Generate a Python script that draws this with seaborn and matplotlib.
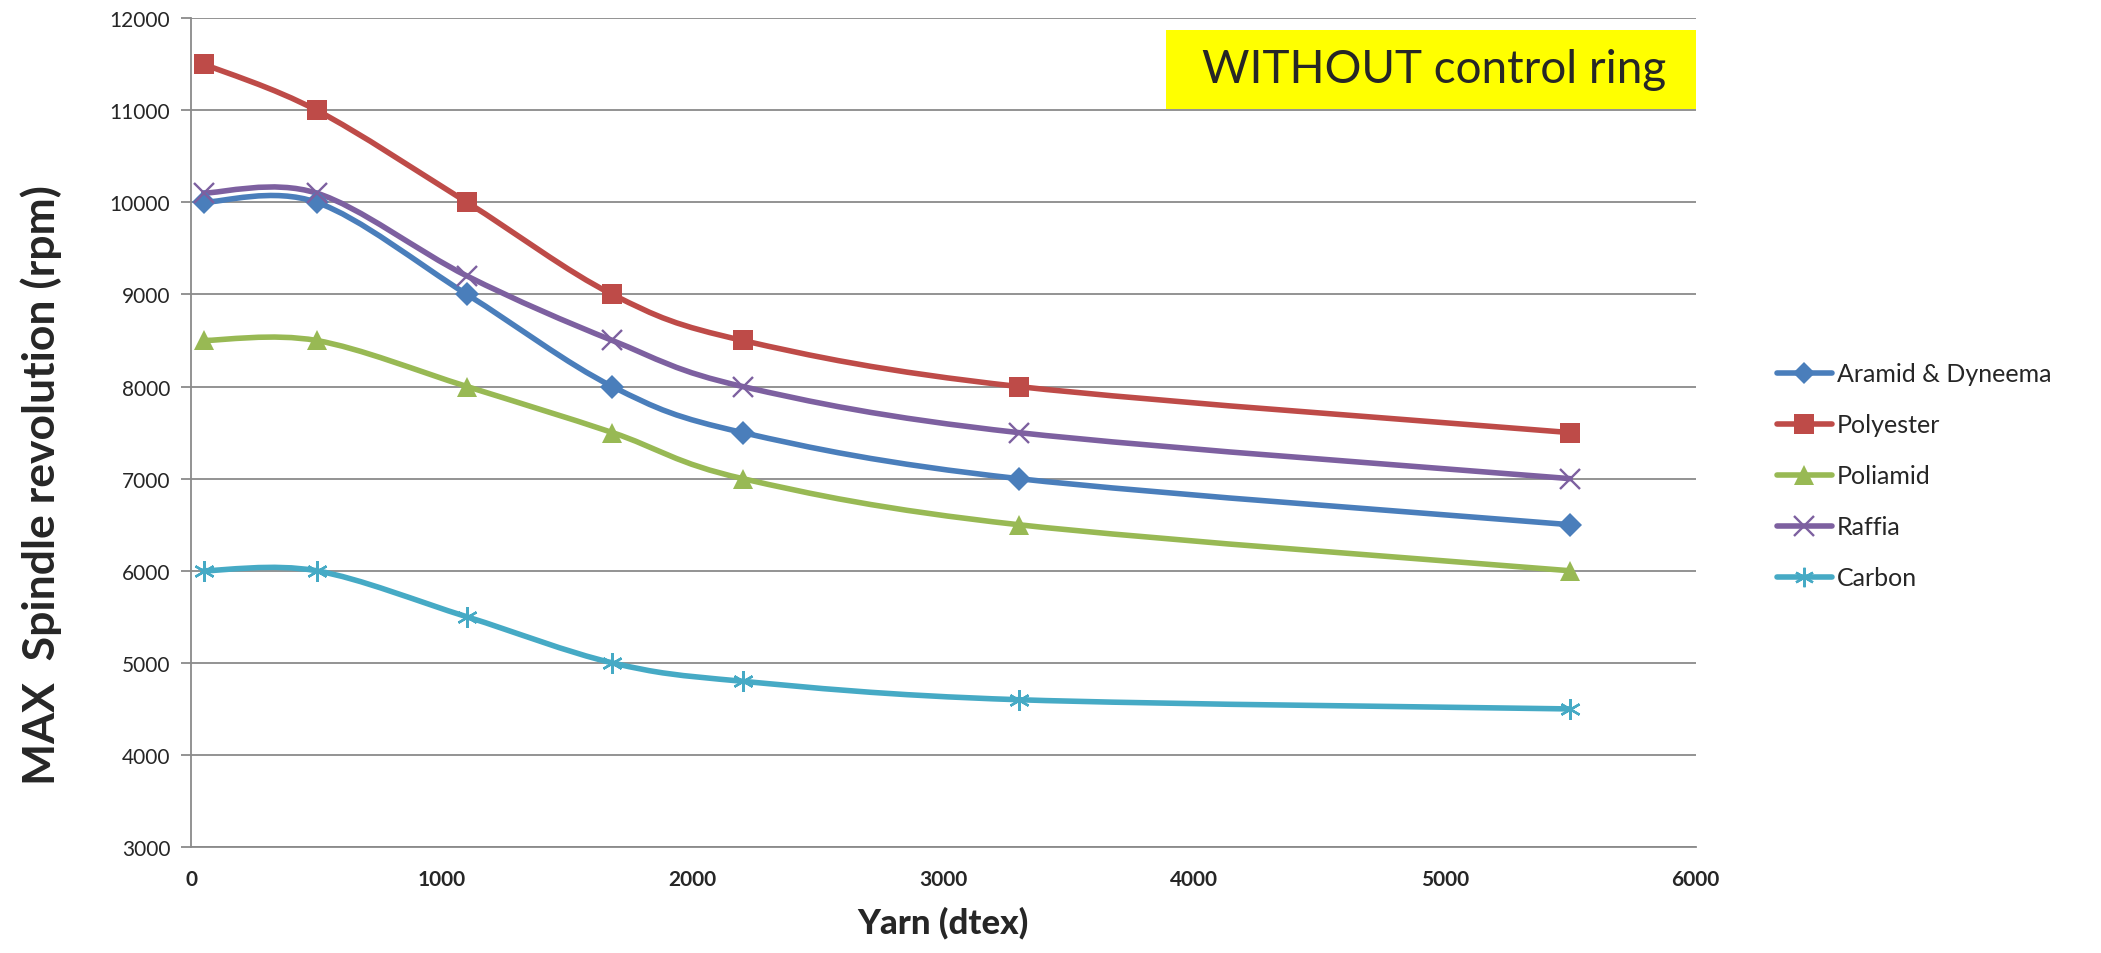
import seaborn as sns
from matplotlib import pyplot as plt
from matplotlib.path import Path
from matplotlib.patches import PathPatch, Rectangle
from matplotlib.lines import Line2D
import numpy as np
import pandas as pd

# data
yarn = [50, 500, 1100, 1680, 2200, 3300, 5500]
series = ["Aramid & Dyneema", "Polyester", "Poliamid", "Raffia", "Carbon"]
aramid = [10000, 10000, 9000, 8000, 7500, 7000, 6500]
polyester = [11500, 11000, 10000, 9000, 8500, 8000, 7500]
poliamid = [8500, 8500, 8000, 7500, 7000, 6500, 6000]
raffia = [10100, 10100, 9200, 8500, 8000, 7500, 7000]
carbon = [6000, 6000, 5500, 5000, 4800, 4600, 4500]

colors = ["#4A7EBB", "#BE4B48", "#98B954", "#7D60A0", "#46AAC5"]
markers = ["D", "s", "^", "x", (6, 2, 0)]
msizes = [12, 15, 15, 15, 15]

df = pd.concat([pd.DataFrame({"Yarn": yarn, "rpm": v, "Material": s})
                 for s, v in zip(series, [aramid, polyester, poliamid, raffia, carbon])],
               ignore_index=True)

sns.set_style("white")
plt.rcParams["font.family"] = ["Lato", "DejaVu Sans"]

fig = plt.figure(figsize=(21.01, 9.54), dpi=100)
ax = fig.add_axes([0.091, 0.111, 0.716, 0.869])


def smooth_path(x, y):
    # Excel-style smoothed line: cubic bezier with catmull-rom control points
    pts = np.column_stack([x, y]).astype(float)
    verts = [pts[0]]
    codes = [Path.MOVETO]
    n = len(pts)
    for i in range(n - 1):
        p0 = pts[max(i - 1, 0)]
        p1 = pts[i]
        p2 = pts[i + 1]
        p3 = pts[min(i + 2, n - 1)]
        verts += [p1 + (p2 - p0) / 6, p2 - (p3 - p1) / 6, p2]
        codes += [Path.CURVE4] * 3
    return Path(verts, codes)


handles = []
for s, c, m, ms in zip(series, colors, markers, msizes):
    sub = df[df.Material == s]
    ax.add_patch(PathPatch(smooth_path(sub.Yarn, sub.rpm), fc="none", ec=c,
                           lw=4, zorder=2, capstyle="round"))
    mew = 1.7 if m in ("x", (6, 2, 0)) else 0
    sns.lineplot(x="Yarn", y="rpm", data=sub, ax=ax, lw=0, marker=m,
                 markersize=ms, color=c, markeredgecolor=c,
                 markeredgewidth=mew, zorder=3, legend=False)
    handles.append(Line2D([], [], color=c, lw=4, marker=m, markersize=ms - 1,
                          markeredgecolor=c, markeredgewidth=mew))

ax.set_xlim(0, 6000)
ax.set_ylim(3000, 12000)
ax.set_yticks(range(3000, 12001, 1000))
ax.set_xticks(range(0, 6001, 1000))
ax.grid(axis="y", color="#8a8a8a", lw=1.3)
ax.set_axisbelow(True)
for side in ["top", "right"]:
    ax.spines[side].set_visible(False)
for side in ["left", "bottom"]:
    ax.spines[side].set_color("#8a8a8a")
    ax.spines[side].set_linewidth(1.3)
ax.tick_params(axis="y", length=7, color="#8a8a8a", width=1.3, labelsize=15, pad=8, left=True)
ax.tick_params(axis="x", length=0, labelsize=15, pad=16)
for lab in ax.get_xticklabels():
    lab.set_weight("bold")

ax.set_xlabel("Yarn (dtex)", fontsize=25, fontweight="black", labelpad=12)
ax.set_ylabel("MAX  Spindle revolution (rpm)", fontsize=32, fontweight="bold")
ax.yaxis.set_label_coords(-0.086, 0.438)

ax.add_patch(Rectangle((0.648, 0.890), 0.352, 0.0955, transform=ax.transAxes,
                       fc="#FFFF00", ec="none", zorder=4))
ax.text(0.826, 0.938, "WITHOUT control ring", transform=ax.transAxes, ha="center",
        va="center", fontsize=33, zorder=5)

fig.legend(handles, series, loc="center left", bbox_to_anchor=(0.835, 0.5), frameon=False,
           fontsize=18, handlelength=2.2, handletextpad=0.2, labelspacing=1.12)

plt.savefig("out.png", dpi=100)
